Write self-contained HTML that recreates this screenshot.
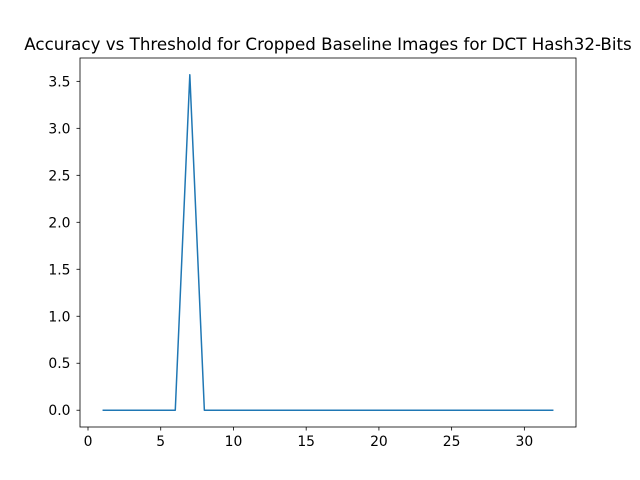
<!DOCTYPE html>
<html><head><meta charset="utf-8"><style>
body{margin:0;background:#fff;}
svg{display:block;font-family:"DejaVu Sans","Liberation Sans",sans-serif;}
</style></head><body>
<svg id="chart" width="640" height="480">
<rect width="640" height="480" fill="#fff"/>
<text x="328" y="50" text-anchor="middle" font-size="16.7">Accuracy vs Threshold for Cropped Baseline Images for DCT Hash32-Bits</text>
<g id="axes"></g>
</svg>
<script>
const thresholds = [1,2,3,4,5,6,7,8,9,10,11,12,13,14,15,16,17,18,19,20,21,22,23,24,25,26,27,28,29,30,31,32];
const accuracy = [0,0,0,0,0,0,3.57,0,0,0,0,0,0,0,0,0,0,0,0,0,0,0,0,0,0,0,0,0,0,0,0,0];
const xTicks = [0,5,10,15,20,25,30];
const yTicks = [0,0.5,1.0,1.5,2.0,2.5,3.0,3.5];

const L=80,R=576,T=58,B=427;
const xmin0=Math.min(...thresholds), xmax0=Math.max(...thresholds);
const ymin0=Math.min(...accuracy), ymax0=Math.max(...accuracy);
const xpad=(xmax0-xmin0)*0.05, ypad=(ymax0-ymin0)*0.05||0.05;
const xmin=xmin0-xpad,xmax=xmax0+xpad,ymin=ymin0-ypad,ymax=ymax0+ypad;
const sx=v=>L+(v-xmin)/(xmax-xmin)*(R-L);
const sy=v=>B-(v-ymin)/(ymax-ymin)*(B-T);
const g=document.getElementById('axes');
const NS='http://www.w3.org/2000/svg';
function mk(tag,attrs){const e=document.createElementNS(NS,tag);for(const k in attrs)e.setAttribute(k,attrs[k]);g.appendChild(e);return e;}

xTicks.forEach(t=>{
  const x=sx(t);
  const l=mk('line',{x1:x,x2:x,y1:B,y2:B+3.5,stroke:'#000','stroke-width':0.8});
  
  
  const tx=mk('text',{x:x,y:B+19,'text-anchor':'middle','font-size':13.9});
  tx.textContent=t;
  
  
});
yTicks.forEach(t=>{
  const y=sy(t);
  const l=mk('line',{x1:L-3.5,x2:L,y1:y,y2:y,stroke:'#000','stroke-width':0.8});
  
  
  const tx=mk('text',{x:L-9.5,y:y+5,'text-anchor':'end','font-size':13.9});
  tx.textContent=t.toFixed(1);
  
  
});
const pts=thresholds.map((x,i)=>sx(x).toFixed(2)+','+sy(accuracy[i]).toFixed(2)).join(' ');
const line=mk('polyline',{points:pts,fill:'none',stroke:'#1f77b4','stroke-width':1.5,'stroke-linejoin':'round'});


const frame=mk('rect',{x:L,y:T,width:R-L,height:B-T,fill:'none',stroke:'#000','stroke-width':0.8});


</script>
</body></html>
